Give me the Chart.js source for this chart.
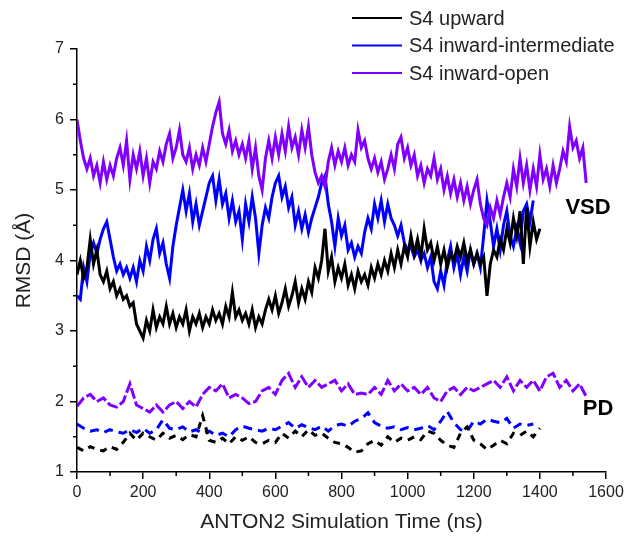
<!DOCTYPE html>
<html>
<head>
<meta charset="utf-8">
<script src="https://cdn.jsdelivr.net/npm/chart.js@4.4.1/dist/chart.umd.min.js"></script>
<style>
  html, body { margin: 0; padding: 0; background: #fff; }
  #wrap { width: 638px; height: 539px; }
</style>
</head>
<body>
<div id="wrap"><canvas id="rmsd"></canvas></div>
<script>
// VSD RMSD, one value every 10 ns
const upwardVsd = [3.8, 4.0, 3.75, 3.9, 4.3, 3.95, 4.15, 3.8, 3.7, 3.85, 3.6, 3.7, 3.5, 3.6, 3.45, 3.5, 3.35, 3.4, 3.1, 3.0,
  2.9, 3.15, 3.0, 3.3, 3.05, 3.2, 3.1, 3.35, 3.1, 3.25, 3.05, 3.2, 3.1, 3.3, 3.0, 3.2, 3.1, 3.25, 3.05, 3.2,
  3.1, 3.3, 3.15, 3.25, 3.1, 3.35, 3.2, 3.55, 3.2, 3.3, 3.15, 3.25, 3.1, 3.3, 3.05, 3.2, 3.1, 3.3, 3.45, 3.3,
  3.5, 3.25, 3.4, 3.6, 3.35, 3.5, 3.7, 3.4, 3.6, 3.45, 3.7, 3.55, 3.9, 3.75, 4.0, 4.45, 3.85, 4.05, 3.7, 3.9,
  3.75, 3.95, 3.65, 3.8, 3.6, 3.85, 3.7, 3.8, 3.65, 3.9, 3.75, 3.95, 3.8, 4.0, 3.85, 4.1, 3.9, 4.15, 3.95, 4.2,
  4.05, 4.35, 4.1, 4.3, 4.05, 4.45, 4.15, 4.25, 4.0, 4.2, 3.95, 4.15, 3.9, 4.1, 4.0, 4.2, 4.05, 4.25, 4.0, 4.15,
  3.95, 4.1, 3.95, 4.05, 3.5, 3.95, 4.15, 4.05, 4.3, 4.15, 4.45, 4.25, 4.6, 4.35, 4.7, 3.95, 4.75, 4.2, 4.55, 4.3,
  4.45];
const intermediateVsd = [3.5, 3.45, 3.9, 3.7, 4.1, 4.25, 4.1, 4.3, 4.45, 4.55, 4.3, 4.05, 3.85, 3.95, 3.8, 3.9, 3.75, 3.9, 3.7, 4.0,
  3.85, 4.2, 4.0, 4.3, 4.45, 4.1, 4.25, 3.95, 3.75, 4.2, 4.5, 4.75, 5.0, 4.7, 4.95, 4.55, 4.8, 4.5, 4.7, 4.9,
  5.1, 5.2, 4.85, 5.15, 4.8, 4.95, 4.6, 4.85, 4.55, 4.7, 4.3, 4.8, 4.55, 4.9, 4.6, 4.1, 4.5, 4.75, 4.6, 4.9,
  5.1, 5.2, 4.9, 5.05, 4.75, 4.9, 4.5, 4.7, 4.45, 4.65, 4.4, 4.6, 4.75, 4.9, 5.1, 5.2, 4.8, 4.55, 4.2, 4.6,
  4.35, 4.5, 4.15, 4.25, 4.05, 4.2, 4.1, 4.4, 4.6, 4.45, 4.8, 4.6, 4.85, 4.55, 4.8, 4.6, 4.5, 4.35, 4.5, 4.25,
  4.15, 4.2, 4.05, 4.15, 4.0, 4.1, 3.9, 4.05, 3.7, 3.6, 3.85, 3.65, 4.0, 4.2, 3.9, 4.1, 3.8, 4.05, 3.85, 4.15,
  3.95, 4.1, 3.9, 4.35, 4.85, 4.55, 4.2, 4.45, 4.15, 4.5, 4.7, 4.35, 4.2, 4.45, 4.25, 4.7, 4.8, 4.55, 4.85];
const openVsd = [6.0, 5.7, 5.45, 5.3, 5.45, 5.2, 5.35, 5.1, 5.4, 5.15, 5.35, 5.2, 5.45, 5.6, 5.35, 5.7, 5.15, 5.5, 5.3, 5.55,
  5.2, 5.45, 5.1, 5.4, 5.3, 5.55, 5.4, 5.65, 5.8, 5.45, 5.6, 5.85, 5.5, 5.4, 5.6, 5.3, 5.5, 5.35, 5.6, 5.4,
  5.65, 5.9, 6.1, 6.25, 5.8, 5.65, 5.85, 5.55, 5.7, 5.5, 5.65, 5.45, 5.7, 5.3, 5.6, 5.2, 5.0, 5.45, 5.7, 5.45,
  5.75, 5.5, 5.8, 5.55, 5.9, 5.6, 5.75, 5.5, 5.85, 5.6, 5.9, 5.5, 5.25, 5.1, 5.2, 5.05, 5.4, 5.6, 5.35, 5.55,
  5.4, 5.6, 5.35, 5.5, 5.4, 5.85, 5.6, 5.7, 5.45, 5.3, 5.45, 5.25, 5.4, 5.15, 5.3, 5.5, 5.3, 5.65, 5.75, 5.45,
  5.6, 5.35, 5.5, 5.2, 5.35, 5.1, 5.3, 5.2, 5.45, 5.15, 5.3, 5.0, 5.2, 4.95, 5.15, 4.9, 5.1, 4.85, 5.05, 4.8,
  5.0, 5.15, 4.8, 4.6, 4.5, 4.75, 4.6, 4.85, 4.65, 4.9, 5.1, 4.9, 5.3, 5.05, 5.45, 5.1, 5.35, 5.0, 5.3, 5.05,
  5.5, 5.15, 5.3, 5.05, 5.35, 5.1, 5.3, 5.55, 5.4, 5.9, 5.6, 5.7, 5.45, 5.6, 5.1];

// PD RMSD, one value every 20 ns
const upwardPd = [1.35, 1.3, 1.36, 1.32, 1.3, 1.36, 1.32, 1.42, 1.55, 1.45, 1.55, 1.5, 1.45, 1.55, 1.48, 1.52, 1.46, 1.53, 1.5, 1.8,
  1.45, 1.42, 1.48, 1.4, 1.5, 1.45, 1.5, 1.42, 1.4, 1.45, 1.42, 1.55, 1.48, 1.58, 1.5, 1.6, 1.52, 1.55, 1.48, 1.42,
  1.4, 1.35, 1.28, 1.3, 1.4, 1.45, 1.38, 1.5, 1.42, 1.48, 1.45, 1.5, 1.46, 1.58, 1.55, 1.45, 1.38, 1.35, 1.55, 1.64,
  1.45, 1.4, 1.32, 1.38, 1.45, 1.4, 1.55, 1.52, 1.58, 1.5, 1.62];
const intermediatePd = [1.68, 1.62, 1.58, 1.6, 1.56, 1.6, 1.57, 1.55, 1.6, 1.56, 1.62, 1.55, 1.6, 1.74, 1.62, 1.6, 1.64, 1.57, 1.6, 1.55,
  1.58, 1.52, 1.55, 1.5, 1.6, 1.65, 1.62, 1.6, 1.58, 1.62, 1.6, 1.65, 1.7, 1.62, 1.67, 1.63, 1.6, 1.65, 1.58, 1.66,
  1.68, 1.65, 1.72, 1.76, 1.84, 1.7, 1.65, 1.62, 1.64, 1.6, 1.63, 1.6, 1.62, 1.66, 1.6, 1.72, 1.86, 1.7, 1.6, 1.58,
  1.72, 1.68, 1.75, 1.72, 1.7, 1.76, 1.62, 1.68, 1.66, 1.68];
const openPd = [1.93, 2.05, 2.1, 2.0, 2.05, 1.95, 1.92, 2.0, 2.25, 1.95, 1.9, 1.85, 1.95, 1.85, 1.95, 2.0, 1.9, 2.0, 1.92, 2.1,
  2.2, 2.15, 2.25, 2.05, 2.1, 2.05, 1.97, 2.0, 2.15, 2.2, 2.1, 2.3, 2.4, 2.2, 2.35, 2.2, 2.3, 2.2, 2.25, 2.3,
  2.15, 2.25, 2.1, 2.12, 2.1, 2.2, 2.1, 2.3, 2.15, 2.25, 2.15, 2.2, 2.1, 2.2, 2.05, 2.0, 2.15, 2.2, 2.1, 2.2,
  2.15, 2.2, 2.25, 2.3, 2.2, 2.35, 2.15, 2.3, 2.2, 2.3, 2.15, 2.35, 2.4, 2.2, 2.3, 2.15, 2.25, 2.07];

const legendNames = ['S4 upward', 'S4 inward-intermediate', 'S4 inward-open'];
const colours = ['#000000', '#0000ff', '#8000ff'];
const fontFamily = '"Liberation Sans", Arial, sans-serif';

function toPoints(values, step) {
    return values.map((v, i) => ({ x: i * step, y: v }));
}

function lineSet(label, values, step, colour, dash) {
    return {
        label: label,
        data: toPoints(values, step),
        borderColor: colour,
        backgroundColor: colour,
        borderWidth: 3,
        borderDash: dash || [],
        pointRadius: 0,
        tension: 0,
        fill: false
    };
}

const datasets = [
    lineSet(legendNames[0], upwardVsd, 10, colours[0]),
    lineSet(legendNames[2], openVsd, 10, colours[2]),
    lineSet(legendNames[1], intermediateVsd, 10, colours[1]),
    lineSet(legendNames[0] + ' PD', upwardPd, 20, colours[0], [7, 6]),
    lineSet(legendNames[1] + ' PD', intermediatePd, 20, colours[1], [9, 6]),
    lineSet(legendNames[2] + ' PD', openPd, 20, colours[2], [11, 3])
];

// minor ticks, legend and the VSD / PD labels
const extras = {
    id: 'extras',
    afterDraw(chart) {
        const ctx = chart.ctx;
        const xs = chart.scales.x, ys = chart.scales.y;
        const area = chart.chartArea;
        ctx.save();
        ctx.strokeStyle = '#000';
        ctx.lineWidth = 1.5;
        ctx.beginPath();
        for (let v = 100; v < 1600; v += 200) {
            const px = xs.getPixelForValue(v);
            ctx.moveTo(px, area.bottom);
            ctx.lineTo(px, area.bottom + 4);
        }
        for (let v = 1.5; v < 7; v += 1) {
            const py = ys.getPixelForValue(v);
            ctx.moveTo(area.left, py);
            ctx.lineTo(area.left - 4, py);
        }
        ctx.stroke();

        ctx.font = '20px ' + fontFamily;
        ctx.textBaseline = 'middle';
        ctx.textAlign = 'left';
        legendNames.forEach((name, i) => {
            const y = 18 + i * 27.5;
            ctx.strokeStyle = colours[i];
            ctx.lineWidth = 2;
            ctx.beginPath();
            ctx.moveTo(352, y);
            ctx.lineTo(402, y);
            ctx.stroke();
            ctx.fillStyle = '#222';
            ctx.fillText(name, 409, y + 1);
        });

        ctx.font = 'bold 22px ' + fontFamily;
        ctx.fillStyle = '#000';
        ctx.textAlign = 'center';
        ctx.fillText('VSD', 588, ys.getPixelForValue(4.75));
        ctx.fillText('PD', 598, ys.getPixelForValue(1.9));
        ctx.restore();
    }
};

new Chart(document.getElementById('rmsd'), {
    type: 'line',
    data: { datasets: datasets },
    options: {
        responsive: true,
        maintainAspectRatio: false,
        animation: false,
        layout: { padding: { top: 49, right: 32, left: 0, bottom: 0 } },
        plugins: { legend: { display: false }, tooltip: { enabled: false } },
        scales: {
            x: {
                type: 'linear',
                min: 0,
                max: 1600,
                afterFit: (s) => { s.height = 67; },
                border: { color: '#000', width: 1.5 },
                grid: { display: true, drawOnChartArea: false, color: '#000', lineWidth: 1.5, tickLength: 7 },
                ticks: { stepSize: 200, color: '#222', padding: 4, maxRotation: 0,
                    callback: (v) => String(v),
                    font: { size: 16, family: fontFamily } },
                title: { display: true, text: 'ANTON2 Simulation Time (ns)', color: '#222',
                    padding: { top: 4 },
                    font: { size: 21, family: fontFamily } }
            },
            y: {
                min: 1,
                max: 7,
                afterFit: (s) => { s.width = 77; },
                border: { color: '#000', width: 1.5 },
                grid: { display: true, drawOnChartArea: false, color: '#000', lineWidth: 1.5, tickLength: 7 },
                ticks: { stepSize: 1, color: '#222', padding: 6,
                    callback: (v) => String(v),
                    font: { size: 16, family: fontFamily } },
                title: { display: true, text: 'RMSD (Å)', color: '#222',
                    padding: { top: 12 },
                    font: { size: 21, family: fontFamily } }
            }
        }
    },
    plugins: [extras]
});
</script>
</body>
</html>
